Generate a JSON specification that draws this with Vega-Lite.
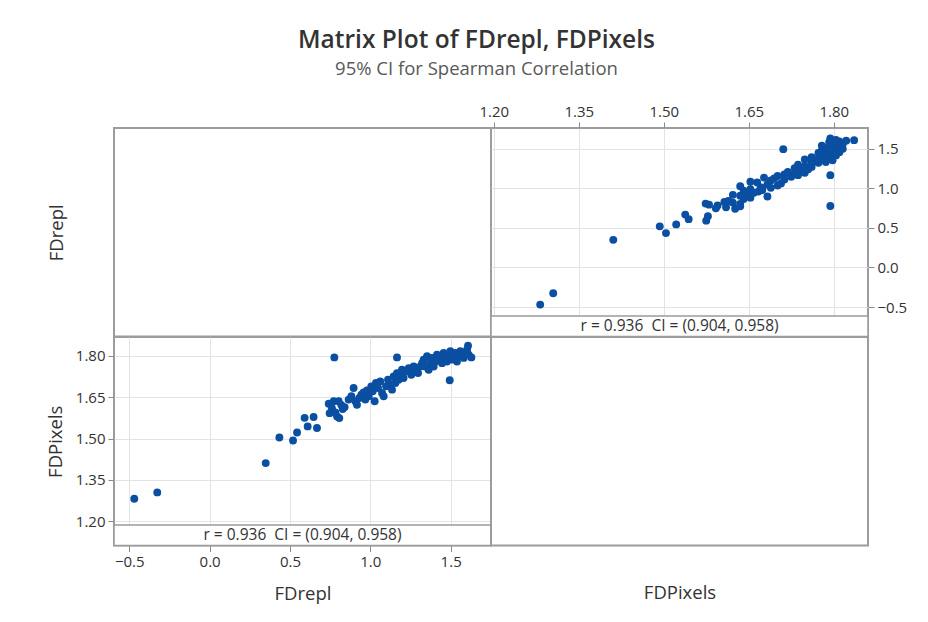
{
  "$schema": "https://vega.github.io/schema/vega-lite/v6.json",
  "padding": {"left": 45, "top": 28, "right": 10, "bottom": 10},
  "title": {
    "text": "Matrix Plot of FDrepl, FDPixels",
    "subtitle": "95% CI for Spearman Correlation",
    "font": "Open Sans",
    "subtitleFont": "Open Sans",
    "fontSize": 24.5,
    "subtitleFontSize": 18.5,
    "fontWeight": 600,
    "color": "#333333",
    "subtitleColor": "#595959",
    "subtitlePadding": 6,
    "offset": 24,
    "anchor": "middle"
  },
  "datasets": {
    "fd": [
      {"FDrepl": -0.469, "FDPixels": 1.282}, {"FDrepl": -0.326, "FDPixels": 1.305},
      {"FDrepl": 0.349, "FDPixels": 1.411}, {"FDrepl": 0.434, "FDPixels": 1.504},
      {"FDrepl": 0.519, "FDPixels": 1.493}, {"FDrepl": 0.544, "FDPixels": 1.522},
      {"FDrepl": 0.591, "FDPixels": 1.575}, {"FDrepl": 0.610, "FDPixels": 1.544},
      {"FDrepl": 0.647, "FDPixels": 1.578}, {"FDrepl": 0.668, "FDPixels": 1.538},
      {"FDrepl": 0.776, "FDPixels": 1.794}, {"FDrepl": 1.166, "FDPixels": 1.794},
      {"FDrepl": 1.494, "FDPixels": 1.711}, {"FDrepl": 1.608, "FDPixels": 1.836},
      {"FDrepl": 1.629, "FDPixels": 1.794},
      {"FDrepl": 0.741, "FDPixels": 1.626}, {"FDrepl": 0.747, "FDPixels": 1.592},
      {"FDrepl": 0.761, "FDPixels": 1.610}, {"FDrepl": 0.782, "FDPixels": 1.595},
      {"FDrepl": 0.793, "FDPixels": 1.580}, {"FDrepl": 0.807, "FDPixels": 1.574},
      {"FDrepl": 0.819, "FDPixels": 1.622}, {"FDrepl": 0.828, "FDPixels": 1.607},
      {"FDrepl": 0.840, "FDPixels": 1.614}, {"FDrepl": 0.772, "FDPixels": 1.635},
      {"FDrepl": 0.803, "FDPixels": 1.635},
      {"FDrepl": 0.865, "FDPixels": 1.641}, {"FDrepl": 0.882, "FDPixels": 1.653},
      {"FDrepl": 0.896, "FDPixels": 1.683}, {"FDrepl": 0.907, "FDPixels": 1.635},
      {"FDrepl": 0.917, "FDPixels": 1.622}, {"FDrepl": 0.932, "FDPixels": 1.647},
      {"FDrepl": 0.944, "FDPixels": 1.659}, {"FDrepl": 0.958, "FDPixels": 1.667},
      {"FDrepl": 0.969, "FDPixels": 1.641}, {"FDrepl": 0.979, "FDPixels": 1.674},
      {"FDrepl": 0.990, "FDPixels": 1.653},
      {"FDrepl": 1.006, "FDPixels": 1.689}, {"FDrepl": 1.015, "FDPixels": 1.671},
      {"FDrepl": 1.027, "FDPixels": 1.635}, {"FDrepl": 1.035, "FDPixels": 1.701},
      {"FDrepl": 1.048, "FDPixels": 1.683}, {"FDrepl": 1.062, "FDPixels": 1.707},
      {"FDrepl": 1.073, "FDPixels": 1.665}, {"FDrepl": 1.083, "FDPixels": 1.653},
      {"FDrepl": 1.098, "FDPixels": 1.689}, {"FDrepl": 1.110, "FDPixels": 1.713},
      {"FDrepl": 1.124, "FDPixels": 1.695}, {"FDrepl": 1.135, "FDPixels": 1.677},
      {"FDrepl": 1.145, "FDPixels": 1.725}, {"FDrepl": 1.156, "FDPixels": 1.701},
      {"FDrepl": 1.166, "FDPixels": 1.737}, {"FDrepl": 1.176, "FDPixels": 1.713},
      {"FDrepl": 1.187, "FDPixels": 1.731}, {"FDrepl": 1.197, "FDPixels": 1.749},
      {"FDrepl": 1.207, "FDPixels": 1.719}, {"FDrepl": 1.222, "FDPixels": 1.743},
      {"FDrepl": 1.239, "FDPixels": 1.755}, {"FDrepl": 1.255, "FDPixels": 1.731},
      {"FDrepl": 1.270, "FDPixels": 1.761}, {"FDrepl": 1.280, "FDPixels": 1.749},
      {"FDrepl": 1.297, "FDPixels": 1.737}, {"FDrepl": 1.311, "FDPixels": 1.761},
      {"FDrepl": 1.322, "FDPixels": 1.773},
      {"FDrepl": 1.332, "FDPixels": 1.786}, {"FDrepl": 1.342, "FDPixels": 1.761},
      {"FDrepl": 1.353, "FDPixels": 1.798}, {"FDrepl": 1.363, "FDPixels": 1.749},
      {"FDrepl": 1.373, "FDPixels": 1.773}, {"FDrepl": 1.384, "FDPixels": 1.792},
      {"FDrepl": 1.394, "FDPixels": 1.761}, {"FDrepl": 1.405, "FDPixels": 1.779},
      {"FDrepl": 1.415, "FDPixels": 1.804}, {"FDrepl": 1.425, "FDPixels": 1.786},
      {"FDrepl": 1.436, "FDPixels": 1.798}, {"FDrepl": 1.446, "FDPixels": 1.773},
      {"FDrepl": 1.456, "FDPixels": 1.810}, {"FDrepl": 1.467, "FDPixels": 1.792},
      {"FDrepl": 1.477, "FDPixels": 1.779}, {"FDrepl": 1.488, "FDPixels": 1.804},
      {"FDrepl": 1.498, "FDPixels": 1.816}, {"FDrepl": 1.508, "FDPixels": 1.786},
      {"FDrepl": 1.519, "FDPixels": 1.798}, {"FDrepl": 1.529, "FDPixels": 1.810},
      {"FDrepl": 1.539, "FDPixels": 1.779}, {"FDrepl": 1.550, "FDPixels": 1.798},
      {"FDrepl": 1.560, "FDPixels": 1.816}, {"FDrepl": 1.571, "FDPixels": 1.804},
      {"FDrepl": 1.581, "FDPixels": 1.792}, {"FDrepl": 1.591, "FDPixels": 1.810},
      {"FDrepl": 1.602, "FDPixels": 1.822}, {"FDrepl": 1.612, "FDPixels": 1.804}
    ],
    "stat": [
      {"label": "r = 0.936 \u00a0CI = (0.904, 0.958)"}
    ],
    "none": []
  },
  "columns": 2,
  "spacing": 0,
  "bounds": "flush",
  "concat": [
    {
      "width": 377,
      "height": 208.5,
      "data": {"name": "none"},
      "mark": "point",
      "encoding": {
        "y": {
          "field": "FDrepl",
          "type": "quantitative",
          "scale": {"domain": [0, 1]},
          "axis": {"title": "FDrepl", "labels": false, "ticks": false, "grid": false, "domain": false, "titlePadding": 48}
        }
      }
    },
    {
      "width": 377,
      "height": 208.5,
      "layer": [
        {
          "data": {"name": "fd"},
          "mark": {"type": "circle", "size": 62, "color": "#0a4fa2", "opacity": 1},
          "encoding": {
            "x": {
              "field": "FDPixels",
              "type": "quantitative",
              "scale": {"domain": [1.1952, 1.8605], "nice": false, "zero": false},
              "axis": {"orient": "top", "values": [1.2, 1.35, 1.5, 1.65, 1.8], "format": ".2f", "title": null}
            },
            "y": {
              "field": "FDrepl",
              "type": "quantitative",
              "scale": {"domain": [-0.872, 1.7615], "nice": false, "zero": false},
              "axis": {"orient": "right", "values": [-0.5, 0, 0.5, 1, 1.5], "format": ".1f", "title": null}
            }
          }
        },
        {
          "data": {"name": "stat"},
          "mark": {"type": "rect", "fill": "white", "stroke": "#9a9a9a", "strokeWidth": 1.5},
          "encoding": {
            "x": {"datum": 1.1952},
            "x2": {"datum": 1.8605},
            "y": {"datum": -0.613},
            "y2": {"datum": -0.872}
          }
        },
        {
          "data": {"name": "stat"},
          "mark": {"type": "text", "font": "Open Sans", "fontSize": 15.5, "color": "#333333", "baseline": "middle"},
          "encoding": {
            "x": {"datum": 1.528},
            "y": {"datum": -0.742},
            "text": {"field": "label"}
          }
        }
      ]
    },
    {
      "width": 377,
      "height": 208.5,
      "layer": [
        {
          "data": {"name": "fd"},
          "mark": {"type": "circle", "size": 62, "color": "#0a4fa2", "opacity": 1},
          "encoding": {
            "x": {
              "field": "FDrepl",
              "type": "quantitative",
              "scale": {"domain": [-0.5952, 1.751], "nice": false, "zero": false},
              "axis": {"orient": "bottom", "values": [-0.5, 0, 0.5, 1, 1.5], "format": ".1f", "title": "FDrepl", "titlePadding": 15}
            },
            "y": {
              "field": "FDPixels",
              "type": "quantitative",
              "scale": {"domain": [1.1126, 1.8678], "nice": false, "zero": false},
              "axis": {"orient": "left", "values": [1.2, 1.35, 1.5, 1.65, 1.8], "format": ".2f", "title": "FDPixels", "titlePadding": 10}
            }
          }
        },
        {
          "data": {"name": "stat"},
          "mark": {"type": "rect", "fill": "white", "stroke": "#9a9a9a", "strokeWidth": 1.5},
          "encoding": {
            "x": {"datum": -0.5952},
            "x2": {"datum": 1.751},
            "y": {"datum": 1.187},
            "y2": {"datum": 1.1126}
          }
        },
        {
          "data": {"name": "stat"},
          "mark": {"type": "text", "font": "Open Sans", "fontSize": 15.5, "color": "#333333", "baseline": "middle"},
          "encoding": {
            "x": {"datum": 0.578},
            "y": {"datum": 1.1495},
            "text": {"field": "label"}
          }
        }
      ]
    },
    {
      "width": 377,
      "height": 208.5,
      "data": {"name": "none"},
      "mark": "point",
      "encoding": {
        "x": {
          "field": "FDPixels",
          "type": "quantitative",
          "scale": {"domain": [0, 1]},
          "axis": {"title": "FDPixels", "labels": false, "ticks": false, "grid": false, "domain": false, "titlePadding": 38}
        }
      }
    }
  ],
  "config": {
    "background": "white",
    "view": {"stroke": "#9c9c9c", "strokeWidth": 2},
    "axis": {
      "domain": false,
      "grid": true,
      "gridColor": "#e3e3e3",
      "gridWidth": 1,
      "tickColor": "#8a8a8a",
      "tickSize": 6,
      "labelFont": "Open Sans",
      "labelFontSize": 15,
      "labelColor": "#333333",
      "labelPadding": 3,
      "titleFont": "Open Sans",
      "titleFontSize": 18.5,
      "titleFontWeight": "normal",
      "titleColor": "#333333"
    }
  }
}
